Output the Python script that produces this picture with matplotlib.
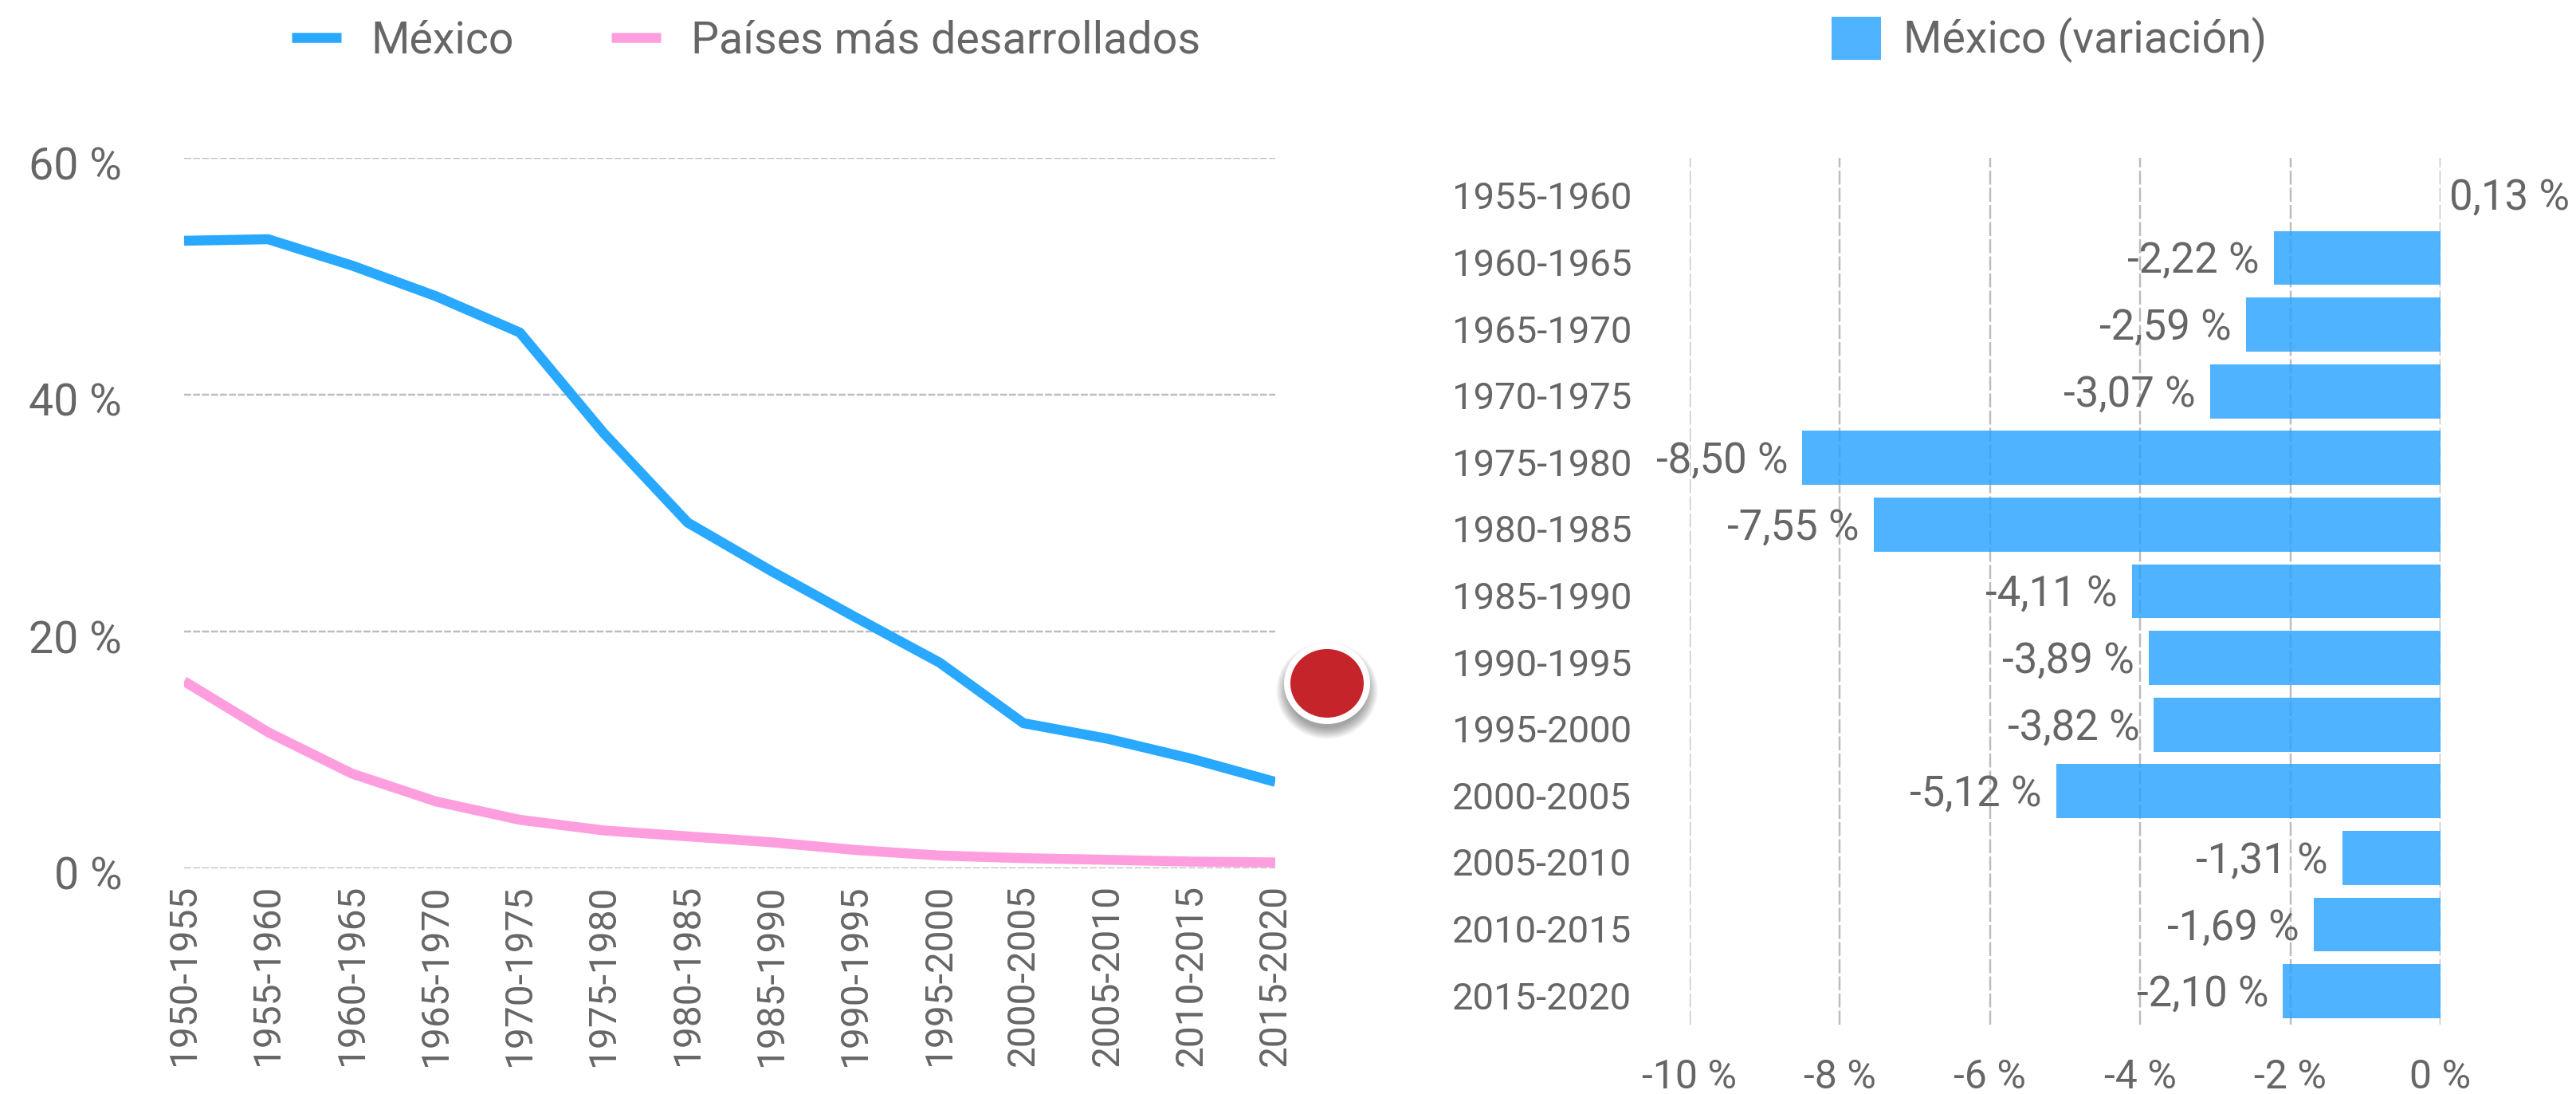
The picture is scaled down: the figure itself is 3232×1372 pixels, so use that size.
import matplotlib
matplotlib.use("Agg")
import matplotlib.pyplot as plt
from matplotlib.patches import Ellipse
from matplotlib.transforms import ScaledTranslation

W, H = 3232, 1372
DPI = 100
plt.rcParams['font.family'] = ['Roboto', 'DejaVu Sans']

periods = ["1950-1955", "1955-1960", "1960-1965", "1965-1970", "1970-1975", "1975-1980", "1980-1985",
           "1985-1990", "1990-1995", "1995-2000", "2000-2005", "2005-2010", "2010-2015", "2015-2020"]
mexico = [53.0, 53.13, 50.91, 48.32, 45.25, 36.75, 29.2, 25.09, 21.2, 17.38, 12.26, 10.95, 9.26, 7.3]
desarrollados = [15.8, 11.5, 8.0, 5.65, 4.1, 3.2, 2.7, 2.2, 1.55, 1.08, 0.86, 0.72, 0.57, 0.5]
variacion = [0.13, -2.22, -2.59, -3.07, -8.50, -7.55, -4.11, -3.89, -3.82, -5.12, -1.31, -1.69, -2.10]
variacion_periods = periods[1:]
left_ticks = [0, 20, 40, 60]
right_ticks = [-10, -8, -6, -4, -2, 0]

GRAY = '#666666'
BLUE = '#29A8FF'
BAR = '#29A3FF'
PINK = '#FF9EDF'
FS_LEG = 40
FS_LEFT_Y = 40
FS_LEFT_X = 34.5
FS_CAT = 34
FS_VAL = 38
FS_RIGHT_X = 36
px = 72 / DPI


def axes_px(fig, x0, y0, x1, y1):
    return fig.add_axes([x0 / W, 1 - y1 / H, (x1 - x0) / W, (y1 - y0) / H])


def pct(v):
    return f"{v:.2f}".replace('.', ',') + " %"


def shift_down(labels, fig, pixels):
    off = ScaledTranslation(0, -pixels / DPI, fig.dpi_scale_trans)
    for lab in labels:
        lab.set_transform(lab.get_transform() + off)


fig = plt.figure(figsize=(W / DPI, H / DPI), dpi=DPI, facecolor='white')

# Left chart
ax = axes_px(fig, 231, 198, 1600, 1089)
xs = list(range(len(periods)))
ax.plot(xs, mexico, color=BLUE, lw=12.5 * px, solid_capstyle='butt', solid_joinstyle='round', label='México', zorder=3)
ax.plot(xs, desarrollados, color=PINK, lw=12.5 * px, solid_capstyle='butt', solid_joinstyle='round',
        label='Países más desarrollados', zorder=3)
ax.set_xlim(0, len(periods) - 1)
ax.set_ylim(0, 60)
ax.set_yticks(left_ticks)
ax.set_yticklabels([f"{t} %" for t in left_ticks], fontsize=FS_LEFT_Y, color=GRAY)
ax.set_xticks(xs)
ax.set_xticklabels(periods, rotation=90, fontsize=FS_LEFT_X, color=GRAY)
ax.tick_params(axis='y', length=0, pad=78 * px)
ax.tick_params(axis='x', length=0, pad=20 * px)
ax.grid(axis='y', color='#BDBDBD', lw=2.5 * px, linestyle=(0, (3.5, 1)))
ax.set_axisbelow(True)
for s in ax.spines.values():
    s.set_visible(False)
shift_down(ax.get_yticklabels(), fig, 6)
ax.patch.set_visible(False)
ax.legend(loc='center', bbox_to_anchor=(936 / W, 1 - 51 / H), bbox_transform=fig.transFigure, ncol=2, frameon=False,
          fontsize=FS_LEG, labelcolor=GRAY, handlelength=1.115, handletextpad=0.68, columnspacing=2.2,
          borderpad=0, borderaxespad=0)

# Right chart
ax2 = axes_px(fig, 2120, 198, 3062, 1285)
ys = list(range(len(variacion)))
neg = [v if v < 0 else 0 for v in variacion]
ax2.barh(ys, neg, height=0.81, color=BAR, alpha=0.82, label='México (variación)', zorder=3)
ax2.set_xlim(-10, 0)
ax2.set_ylim(len(variacion) - 0.5, -0.5)
ax2.set_xticks(right_ticks)
ax2.set_xticklabels([f"{t} %" for t in right_ticks], fontsize=FS_RIGHT_X, color=GRAY)
ax2.set_yticks(ys)
ax2.set_yticklabels(variacion_periods, fontsize=FS_CAT, color=GRAY)
ax2.tick_params(axis='y', length=0, pad=73 * px)
ax2.tick_params(axis='x', length=0, pad=42 * px)
ax2.grid(axis='x', color='#BDBDBD', lw=2.5 * px, linestyle=(0, (7, 1.6)), zorder=1)
ax2.set_axisbelow(True)
for s in ax2.spines.values():
    s.set_visible(False)
shift_down(ax2.get_yticklabels(), fig, 5)
ax2.patch.set_visible(False)
for y, v in zip(ys, variacion):
    if v < 0:
        ax2.annotate(pct(v), (v, y), xytext=(-18 * px, -4 * px), textcoords='offset points', ha='right', va='center',
                     fontsize=FS_VAL, color=GRAY, zorder=5)
    else:
        ax2.annotate(pct(v), (0, y), xytext=(11 * px, -8 * px), textcoords='offset points', ha='left', va='center',
                     fontsize=FS_VAL, color=GRAY, zorder=5, annotation_clip=False)
ax2.legend(loc='center', bbox_to_anchor=(2571 / W, 1 - 50 / H), bbox_transform=fig.transFigure, frameon=False,
           fontsize=FS_LEG, labelcolor=GRAY, handlelength=1.115, handleheight=1.115, handletextpad=0.5,
           borderpad=0, borderaxespad=0)

# Red dot overlay in pixel space
ov = fig.add_axes([0, 0, 1, 1], zorder=10)
ov.set_xlim(0, W)
ov.set_ylim(H, 0)
ov.axis('off')
for i in range(20):
    ov.add_patch(Ellipse((1665, 866), 2 * (64 - 0.75 * i), 2 * (61 - 0.75 * i), color='black', alpha=0.018, lw=0))
ov.add_patch(Ellipse((1665, 857), 108, 102, color='white', lw=0))
ov.add_patch(Ellipse((1665, 857), 92, 86, color='#C4242A', lw=0))

fig.savefig('out.png', dpi=DPI, facecolor='white')
